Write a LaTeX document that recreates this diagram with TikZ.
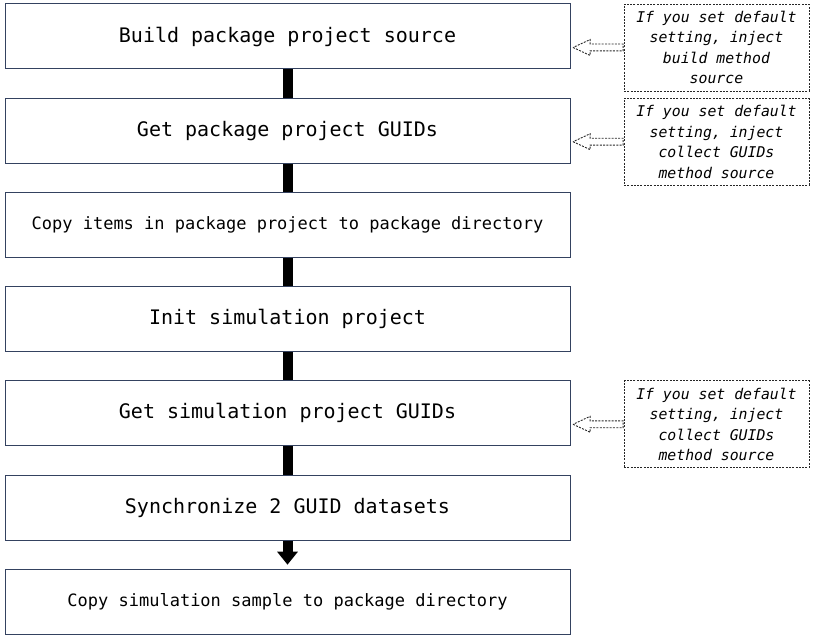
\documentclass[tikz,border=0pt]{standalone}
\usepackage{fontspec}
\newfontfamily\codefont{DejaVu Sans Mono}
\usetikzlibrary{shapes, shapes.arrows, arrows.meta, positioning}

\definecolor{boxline}{RGB}{52,66,96}

\tikzset{
    stepbox/.style={draw=boxline, line width=1pt, rectangle, minimum width=565pt, minimum height=65pt, inner sep=0pt, font=\codefont\fontsize{20}{24}\selectfont},
    smallbox/.style={stepbox, font=\codefont\fontsize{17}{20}\selectfont},
    note/.style={draw=black!85, dash pattern=on 2pt off 1.3pt, line width=0.9pt, rectangle, minimum width=185pt, minimum height=87pt, inner sep=2pt, align=center, font=\codefont\itshape\fontsize{14.8}{20.5}\selectfont},
    injarrow/.style={draw=black!85, dash pattern=on 2pt off 1.3pt, line width=0.9pt, single arrow, shape border rotate=180, minimum height=50pt, minimum width=15pt, single arrow head extend=4.5pt, single arrow tip angle=50, inner sep=3pt},
    bar/.style={line width=10pt, black}
}

\begin{document}
\begin{tikzpicture}[x=1pt, y=1pt, node distance=28.2pt]
        \useasboundingbox (0,0) rectangle (813,-639);

        \node (build) [stepbox] at (287.5,-36.5) {Build package project source};
        \node (getpkg) [stepbox, below=of build] {Get package project GUIDs};
        \node (copyitems) [smallbox, below=of getpkg] {Copy items in package project to package directory};
        \node (initsim) [stepbox, below=of copyitems] {Init simulation project};
        \node (getsim) [stepbox, below=of initsim] {Get simulation project GUIDs};
        \node (sync) [stepbox, below=of getsim] {Synchronize 2 GUID datasets};
        \node (copysample) [smallbox, below=of sync] {Copy simulation sample to package directory};

        \node (notebuild) [note, right=53pt of build, yshift=-11pt] {If you set default\\setting, inject\\build method\\source};
        \node (notepkg) [note, right=53pt of getpkg, yshift=-11pt] {If you set default\\setting, inject\\collect GUIDs\\method source};
        \node (notesim) [note, right=53pt of getsim, yshift=-11pt] {If you set default\\setting, inject\\collect GUIDs\\method source};

        \node (injbuild) [injarrow, anchor=tail] at (notebuild.west) {};
        \node (injpkg) [injarrow, anchor=tail] at (notepkg.west) {};
        \node (injsim) [injarrow, anchor=tail] at (notesim.west) {};

        \draw [bar] (build) -- (getpkg);
        \draw [bar] (getpkg) -- (copyitems);
        \draw [bar] (copyitems) -- (initsim);
        \draw [bar] (initsim) -- (getsim);
        \draw [bar] (getsim) -- (sync);
        \draw [bar, -{Triangle[length=13pt, width=20pt]}, shorten >=4pt] (sync) -- (copysample);
    \end{tikzpicture}
\end{document}
